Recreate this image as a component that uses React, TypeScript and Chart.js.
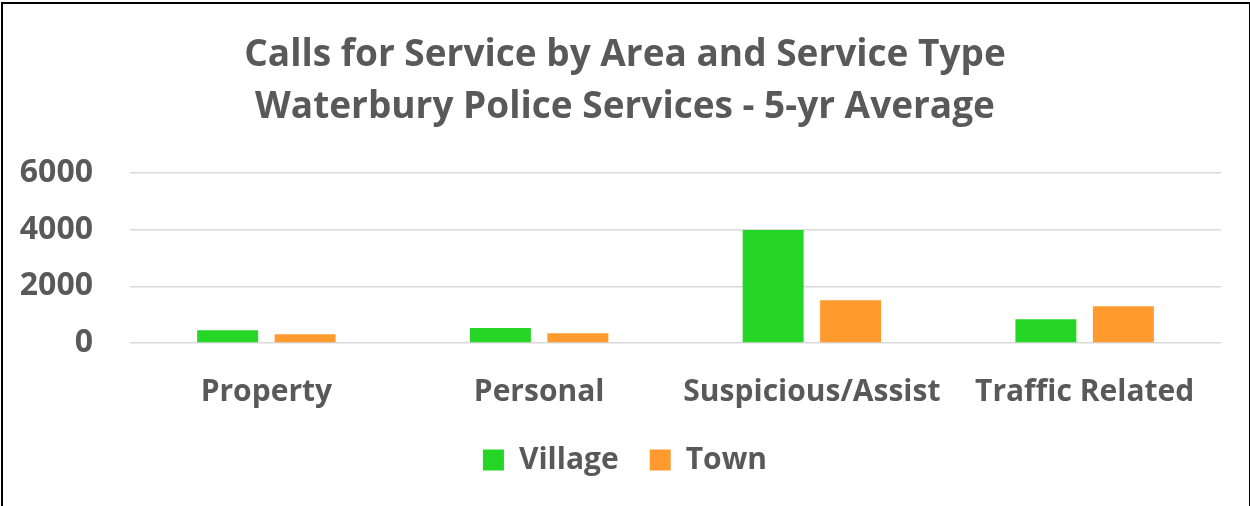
import React, { useEffect, useRef } from "react";
import { Chart, registerables } from "chart.js";
Chart.register(...registerables);

const categories = ["Property", "Personal", "Suspicious/Assist", "Traffic Related"];
const villageValues = [450, 530, 3990, 840];
const townValues = [310, 345, 1510, 1300];
const seriesNames = ["Village", "Town"];
const titleLines = [
  "Calls for Service by Area and Service Type",
  "Waterbury Police Services - 5-yr Average",
];
const yMax = 6000;
const yStep = 2000;

const GRAY = "#595959";
const FONT = "'Open Sans'";

export default function App() {
  const ref = useRef<HTMLCanvasElement | null>(null);
  useEffect(() => {
    document.body.style.margin = "0";
    const ctx = ref.current!;
    const chart = new Chart(ctx, {
      type: "bar",
      data: {
        labels: categories,
        datasets: [
          {
            label: seriesNames[0],
            data: villageValues,
            backgroundColor: "#26D626",
            borderWidth: 0,
            categoryPercentage: 0.568,
            barPercentage: 0.787,
          },
          {
            label: seriesNames[1],
            data: townValues,
            backgroundColor: "#FF9A2E",
            borderWidth: 0,
            categoryPercentage: 0.568,
            barPercentage: 0.787,
          },
        ],
      },
      options: {
        animation: false,
        responsive: false,
        layout: { padding: { left: 16, right: 16, top: 0, bottom: 21 } },
        plugins: {
          title: {
            display: true,
            text: titleLines,
            color: GRAY,
            font: { family: FONT, size: 37, weight: "bold", lineHeight: 52 / 37 },
            padding: { top: 29, bottom: 40 },
          },
          legend: {
            position: "bottom",
            labels: {
              color: GRAY,
              font: { family: FONT, size: 30, weight: "bold" },
              boxWidth: 21,
              boxHeight: 21,
              padding: 31,
            },
          },
          tooltip: { enabled: false },
        },
        scales: {
          x: {
            grid: { display: false, drawTicks: true, tickLength: 27 },
            border: { display: false },
            ticks: {
              color: GRAY,
              font: { family: FONT, size: 30, weight: "bold", lineHeight: 1.2 },
              padding: 4,
              maxRotation: 0,
            },
          },
          y: {
            min: 0,
            max: yMax,
            grid: { color: "#D9D9D9", lineWidth: 1.5, drawTicks: false },
            border: { display: false },
            afterFit: (scale: any) => {
              scale.width = 114;
            },
            ticks: {
              stepSize: yStep,
              color: GRAY,
              font: { family: FONT, size: 32, weight: "bold" },
              padding: 37,
              callback: (v: any) => String(v),
            },
          },
          yRight: {
            type: "linear",
            position: "right",
            min: 0,
            max: yMax,
            grid: { display: false, drawTicks: false },
            border: { display: false },
            ticks: { display: false },
            afterFit: (scale: any) => {
              scale.width = 13;
            },
          },
        },
      },
    });
    return () => chart.destroy();
  }, []);
  return (
    <div style={{ position: "relative", width: 1250, height: 506, background: "#fff" }}>
      <div
        style={{
          position: "absolute",
          left: 1,
          top: 2,
          width: 1246,
          height: 502,
          borderLeft: "2px solid #000",
          borderTop: "2px solid #000",
          borderRight: "2px solid #000",
          borderBottom: "1px solid #D9D9D9",
        }}
      />
      <canvas ref={ref} width={1250} height={506} style={{ position: "absolute", left: 0, top: 0 }} />
    </div>
  );
}
